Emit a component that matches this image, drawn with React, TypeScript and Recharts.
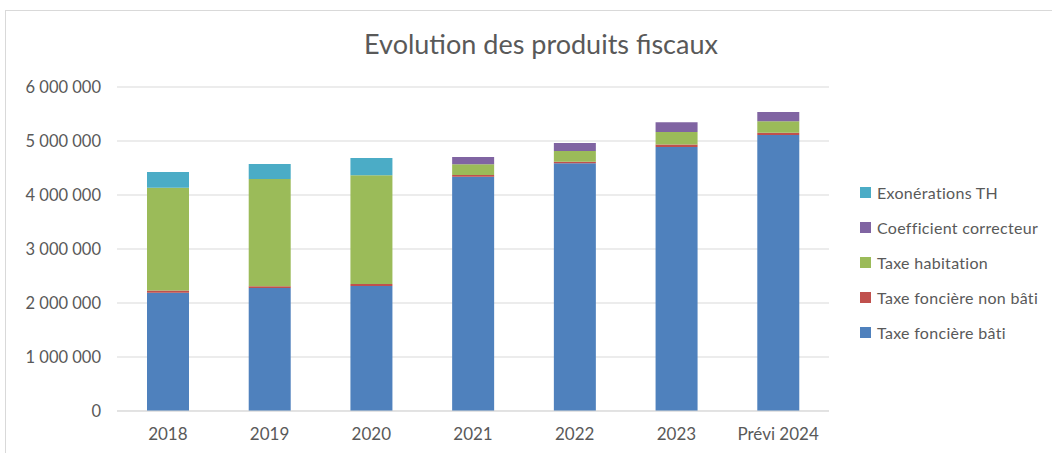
import { Bar, BarChart, CartesianGrid, XAxis, YAxis } from "recharts";

const years = ["2018", "2019", "2020", "2021", "2022", "2023", "Prévi 2024"];
const fonciereBati = [2190000, 2278000, 2315000, 4340000, 4587000, 4889000, 5111000];
const fonciereNonBati = [40000, 32000, 35000, 30000, 30000, 45000, 43000];
const habitation = [1905000, 1986000, 2014000, 198000, 198000, 234000, 210000];
const coefficient = [0, 0, 0, 136000, 148000, 180000, 173000];
const exonerations = [291000, 278000, 321000, 0, 0, 0, 0];
const yTicks = [0, 1000000, 2000000, 3000000, 4000000, 5000000, 6000000];

const series = [
  { key: "tfb", name: "Taxe foncière bâti", color: "#4F81BD", values: fonciereBati },
  { key: "tfnb", name: "Taxe foncière non bâti", color: "#C0504D", values: fonciereNonBati },
  { key: "th", name: "Taxe habitation", color: "#9BBB59", values: habitation },
  { key: "coef", name: "Coefficient correcteur", color: "#8064A2", values: coefficient },
  { key: "exo", name: "Exonérations TH", color: "#4BACC6", values: exonerations },
];

const data = years.map((year, i) => {
  const row: Record<string, string | number> = { year };
  series.forEach((s) => {
    row[s.key] = s.values[i];
  });
  return row;
});

const font = "Lato, 'Open Sans', sans-serif";
const textColor = "#595959";

const formatNumber = (v: number) => String(v).replace(/\B(?=(\d{3})+(?!\d))/g, " ");

// legend drawn beside the chart so it doesn't eat into the plot width
function LegendList() {
  return (
    <div
      style={{
        position: "absolute",
        left: 860,
        top: 175,
        fontFamily: font,
        fontSize: 16,
        letterSpacing: 0.3,
        color: textColor,
      }}
    >
      {[...series].reverse().map((s) => (
        <div key={s.key} style={{ display: "flex", alignItems: "center", height: 35, whiteSpace: "nowrap" }}>
          <span style={{ width: 11, height: 11, background: s.color, marginRight: 6, flexShrink: 0 }} />
          {s.name}
        </div>
      ))}
    </div>
  );
}

export default function App() {
  return (
    <div style={{ position: "absolute", left: 0, top: 0, width: 1052, height: 453, background: "#fff", overflow: "hidden" }}>
      <div
        style={{
          position: "absolute",
          left: 5,
          top: 10,
          right: -2,
          bottom: -2,
          borderTop: "1px solid #d9d9d9",
          borderLeft: "1px solid #d9d9d9",
        }}
      />
      <div
        style={{
          position: "absolute",
          left: 0,
          top: 27,
          width: 1082,
          textAlign: "center",
          fontFamily: font,
          fontSize: 27,
          color: textColor,
        }}
      >
        Evolution des produits fiscaux
      </div>
      <BarChart width={1052} height={453} data={data} margin={{ top: 87, right: 223, bottom: 12, left: 17 }}>
        <CartesianGrid vertical={false} stroke="#d9d9d9" />
        <XAxis
          dataKey="year"
          height={30}
          tickLine={false}
          axisLine={{ stroke: "#d9d9d9" }}
          tickMargin={11}
          tick={{ fill: textColor, fontSize: 17, fontFamily: font }}
        />
        <YAxis
          width={100}
          domain={[0, 6000000]}
          ticks={yTicks}
          tickLine={false}
          axisLine={false}
          tickMargin={10}
          tickFormatter={formatNumber}
          tick={{ fill: textColor, fontSize: 16.5, fontFamily: font }}
        />
        {series.map((s) => (
          <Bar key={s.key} dataKey={s.key} name={s.name} stackId="a" fill={s.color} barSize={42} isAnimationActive={false} />
        ))}
      </BarChart>
      <LegendList />
    </div>
  );
}
